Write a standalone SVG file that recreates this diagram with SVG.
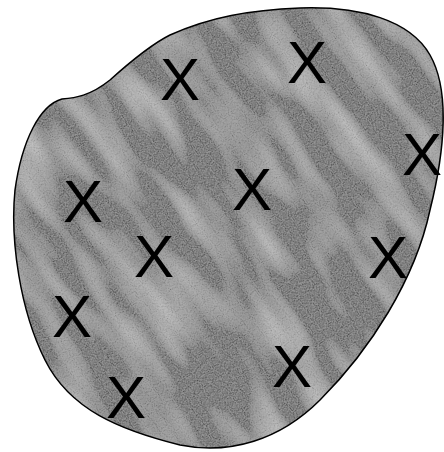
<svg xmlns="http://www.w3.org/2000/svg" width="444" height="452" viewBox="0 0 444 452">
<style>
.x{font-family:"Liberation Sans",Arial,sans-serif;font-size:60px;fill:#000;text-anchor:middle}
.blob{stroke:#000;stroke-width:1.5}
</style>
<defs>
<filter id="tex" x="0" y="0" width="100%" height="100%">
<feTurbulence type="fractalNoise" baseFrequency="0.01 0.035" numOctaves="2" seed="5" result="t"/>
<feColorMatrix in="t" type="matrix" values="0 0 0 0 1  0 0 0 0 1  0 0 0 0 1  1.1 0 0 0 -0.5" result="light"/>
<feTurbulence type="fractalNoise" baseFrequency="0.9" numOctaves="1" seed="7" result="n"/>
<feColorMatrix in="n" type="matrix" values="0 0 0 0 0  0 0 0 0 0  0 0 0 0 0  0 0 0 1.3 -0.5" result="dark"/>
<feMerge><feMergeNode in="light"/><feMergeNode in="dark"/></feMerge>
</filter>
<clipPath id="cp"><path id="bp" d="M62,99 C75,98 90,96 110,80 C130,62 150,45 170,35 C210,17 250,10 300,8 C360,6 410,20 430,55 C450,90 445,150 430,210 C415,280 370,350 320,400 C280,440 230,455 180,445 C120,430 70,410 45,360 C20,310 10,240 15,190 C22,140 40,105 62,99 Z"/></clipPath>
</defs>
<g id="region">
<use href="#bp" fill="#979797"/>
<g clip-path="url(#cp)"><rect x="-250" y="-250" width="944" height="952" filter="url(#tex)" transform="rotate(55 222 226)"/></g>
<use href="#bp" class="blob" fill="none"/>
</g>
<g id="marks">
<text class="x" x="180" y="100">X</text>
<text class="x" x="307" y="83">X</text>
<text class="x" x="422" y="175">X</text>
<text class="x" x="252" y="210">X</text>
<text class="x" x="83" y="222">X</text>
<text class="x" x="154" y="277">X</text>
<text class="x" x="388" y="278">X</text>
<text class="x" x="72" y="337">X</text>
<text class="x" x="292" y="387">X</text>
<text class="x" x="126" y="418">X</text>
</g>
</svg>
